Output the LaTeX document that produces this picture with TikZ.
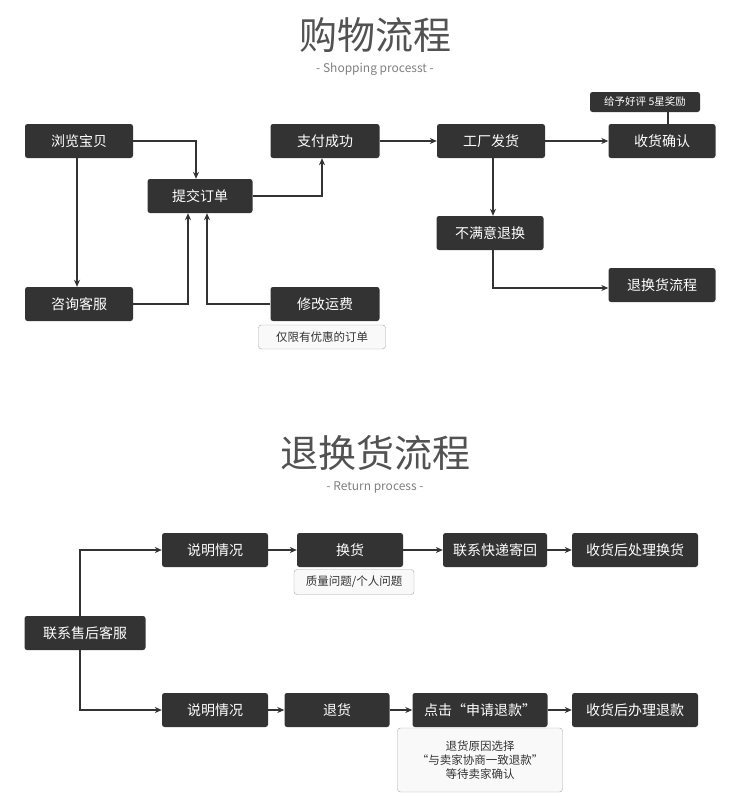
\documentclass[tikz,border=0pt]{standalone}
\usepackage{fontspec}
\setmainfont{Noto Sans CJK SC}
\usetikzlibrary{arrows.meta}
\definecolor{bx}{HTML}{333333}
\begin{document}
\begin{tikzpicture}[x=1pt,y=-1pt,
  box/.style={fill=bx,rounded corners=2.5pt,text=white,font=\fontsize{14}{16}\selectfont,minimum height=34pt,inner sep=0pt,anchor=center},
  note/.style={draw=gray!70,fill=gray!5,rounded corners=3pt,text=bx,font=\fontsize{11.5}{14}\selectfont,inner sep=3pt,align=center},
  ar/.style={draw=bx,line width=1.2pt,-{Stealth[length=7pt,width=6pt]}},
  ln/.style={draw=bx,line width=1.2pt},
  ttl/.style={font=\fontsize{38}{40}\selectfont,text=bx!85},
  sub/.style={font=\fontsize{12}{14}\selectfont,text=gray}]
\useasboundingbox (0,0) rectangle (750,800);
% top
\node[ttl] (t1) at (375,35) {购物流程};
\node[sub] (s1) at (375,69) {- Shopping processt -};
\node[box,minimum width=108pt] (a) at (79,141) {浏览宝贝};
\node[box,minimum width=105pt] (b) at (200,196) {提交订单};
\node[box,minimum width=109pt] (c) at (325,141) {支付成功};
\node[box,minimum width=108pt] (d) at (491,141) {工厂发货};
\node[box,minimum width=107pt] (e) at (662,141) {收货确认};
\node[box,minimum width=110pt,minimum height=20pt,font=\fontsize{10.5}{12}\selectfont] (g) at (645,102) {给予好评 5星奖励};
\node[box,minimum width=107pt] (f) at (490,233) {不满意退换};
\node[box,minimum width=107pt] (h) at (662,285) {退换货流程};
\node[box,minimum width=108pt] (i) at (79,304) {咨询客服};
\node[box,minimum width=109pt] (j) at (325,304) {修改运费};
\node[note,minimum width=127pt,minimum height=24pt,inner sep=0pt] (k) at (322,337) {仅限有优惠的订单};
\draw[ar] (a.east) -| (b.north-|196,0);
\draw[ar] (a.south-|77,0) -- (i.north-|77,0);
\draw[ar] (i.east) -| (b.south-|188,0);
\draw[ar] (j.west) -| (b.south-|207,0);
\draw[ar] (b.east) -| (c.south-|322,0);
\draw[ar] (c) -- (d);
\draw[ar] (d) -- (e);
\draw[ln] (g.south-|668,0) -- (e.north-|668,0);
\draw[ar] (d.south-|493,0) -- (f.north-|493,0);
\draw[ar] (f.south-|493,0) |- (h.west|-0,288);
% bottom
\node[ttl] (t2) at (375,453) {退换货流程};
\node[sub] (s2) at (375,487) {- Return process -};
\node[box,minimum width=121pt] (m) at (85,633) {联系售后客服};
\node[box,minimum width=106pt] (p1) at (215,550) {说明情况};
\node[box,minimum width=106pt] (p2) at (350,550) {换货};
\node[box,minimum width=104pt] (p3) at (495,550) {联系快递寄回};
\node[box,minimum width=126pt] (p4) at (635,550) {收货后处理换货};
\node[note,minimum width=120pt,minimum height=25pt,inner sep=0pt] (pn) at (354,582) {质量问题/个人问题};
\node[box,minimum width=106pt] (q1) at (215,710) {说明情况};
\node[box,minimum width=105pt] (q2) at (337,710) {退货};
\node[box,minimum width=135pt] (q3) at (480,710) {点击“申请退款”};
\node[box,minimum width=126pt] (q4) at (635,710) {收货后办理退款};
\node[note,minimum width=165pt,minimum height=64pt,inner sep=0pt] (qn) at (480,760) {退货原因选择\\“与卖家协商一致退款”\\等待卖家确认};
\draw[ar] (m.north-|80,0) |- (p1.west);
\draw[ar] (m.south-|80,0) |- (q1.west);
\draw[ar] (p1) -- (p2);
\draw[ar] (p2) -- (p3);
\draw[ar] (p3) -- (p4);
\draw[ar] (q1) -- (q2);
\draw[ar] (q2) -- (q3);
\draw[ar] (q3) -- (q4);
\end{tikzpicture}
\end{document}
